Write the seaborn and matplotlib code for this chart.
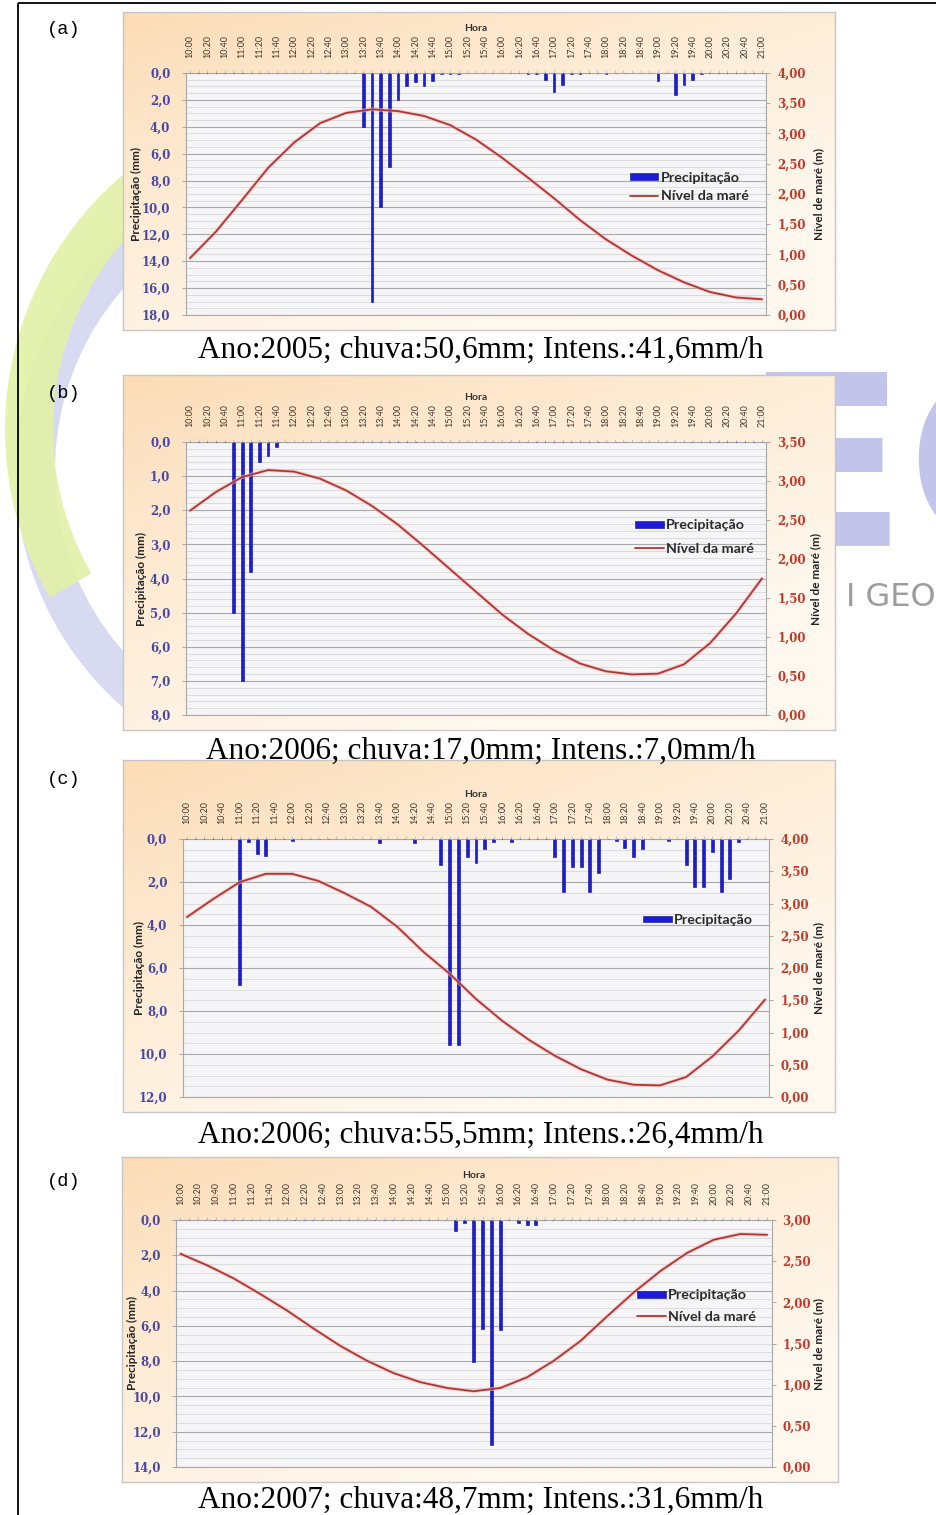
import numpy as np
import pandas as pd
import matplotlib
matplotlib.use("Agg")
import matplotlib.pyplot as plt
import matplotlib.patheffects as pe
import seaborn as sns
from matplotlib.patches import Patch, Wedge
from matplotlib.lines import Line2D
from matplotlib.ticker import MultipleLocator, FixedLocator, FuncFormatter

# ---------------- data ----------------
hora = [f"{h}:{m:02d}" for h in range(10, 21) for m in range(0, 60, 10)] + ["21:00"]
hora_ticks = hora[::2]          # labels every 20 min
tide_hora = hora[::3]           # tide read every 30 min

rain_a_hora = ["13:20", "13:30", "13:40", "13:50", "14:00", "14:10", "14:20", "14:30",
               "14:40", "14:50", "15:00", "15:10", "16:30", "16:40", "16:50", "17:00",
               "17:10", "17:20", "17:30", "18:00", "19:00", "19:20", "19:30", "19:40", "19:50"]
rain_a_mm = [4.0, 17.0, 10.0, 7.0, 2.0, 1.0, 0.7, 1.0,
             0.6, 0.1, 0.1, 0.1, 0.1, 0.1, 0.5, 1.4,
             0.9, 0.1, 0.1, 0.1, 0.6, 1.6, 0.9, 0.5, 0.1]
tide_a_m = [0.94, 1.38, 1.90, 2.43, 2.85, 3.17, 3.34, 3.40, 3.37, 3.29, 3.14, 2.90,
            2.60, 2.27, 1.93, 1.57, 1.25, 0.98, 0.74, 0.54, 0.38, 0.29, 0.26]

rain_b_hora = ["10:50", "11:00", "11:10", "11:20", "11:30", "11:40"]
rain_b_mm = [5.0, 7.0, 3.8, 0.6, 0.4, 0.15]
tide_b_m = [2.62, 2.86, 3.05, 3.14, 3.12, 3.03, 2.88, 2.68, 2.44, 2.16, 1.87, 1.58,
            1.29, 1.04, 0.83, 0.66, 0.56, 0.52, 0.53, 0.65, 0.92, 1.30, 1.75]

rain_c_hora = ["11:00", "11:10", "11:20", "11:30", "12:00", "13:40", "14:20", "14:50",
               "15:00", "15:10", "15:20", "15:30", "15:40", "15:50", "16:10", "17:00",
               "17:10", "17:20", "17:30", "17:40", "17:50", "18:10", "18:20", "18:30",
               "18:40", "19:10", "19:30", "19:40", "19:50", "20:00", "20:10", "20:20", "20:30"]
rain_c_mm = [6.8, 0.15, 0.7, 0.8, 0.1, 0.2, 0.2, 1.2,
             9.6, 9.6, 0.85, 1.1, 0.45, 0.15, 0.15, 0.85,
             2.45, 1.3, 1.3, 2.45, 1.6, 0.1, 0.4, 0.85,
             0.45, 0.1, 1.2, 2.25, 2.25, 0.6, 2.45, 1.85, 0.15]
tide_c_m = [2.79, 3.07, 3.33, 3.46, 3.46, 3.35, 3.16, 2.95, 2.64, 2.25, 1.91, 1.52,
            1.18, 0.89, 0.64, 0.43, 0.27, 0.19, 0.18, 0.31, 0.63, 1.03, 1.51]

rain_d_hora = ["15:10", "15:20", "15:30", "15:40", "15:50", "16:00", "16:20", "16:30", "16:40"]
rain_d_mm = [0.6, 0.15, 8.05, 6.15, 12.75, 6.25, 0.15, 0.3, 0.3]
tide_d_m = [2.59, 2.45, 2.29, 2.10, 1.90, 1.68, 1.47, 1.29, 1.14, 1.03, 0.96, 0.92,
            0.96, 1.09, 1.29, 1.53, 1.83, 2.12, 2.38, 2.60, 2.76, 2.83, 2.82]

captions = ["Ano:2005; chuva:50,6mm; Intens.:41,6mm/h",
            "Ano:2006; chuva:17,0mm; Intens.:7,0mm/h",
            "Ano:2006; chuva:55,5mm; Intens.:26,4mm/h",
            "Ano:2007; chuva:48,7mm; Intens.:31,6mm/h"]
panel_labels = ["(a)", "(b)", "(c)", "(d)"]
legend_labels = ["Precipitação", "Nível da maré"]

# ---------------- style ----------------
sns.set_theme(style="white")
plt.rcParams['font.family'] = ['Lato', 'DejaVu Sans']

W, H = 937, 1515
BAR = "#1c1cd8"
BAR_EDGE = "#0b0b90"
LINE = "#b03636"
LEFT_TXT = "#4848a4"
RIGHT_TXT = "#c4392a"
TIME_TXT = "#3f352b"


def rect(x0, y0, x1, y1):
    return [x0 / W, 1 - y1 / H, (x1 - x0) / W, (y1 - y0) / H]


fig = plt.figure(figsize=(W / 100, H / 100), dpi=100)
fig.patch.set_facecolor("white")

# ---------- background watermark + frame ----------
wm = fig.add_axes([0, 0, 1, 1], zorder=0)
wm.set_xlim(0, W)
wm.set_ylim(H, 0)
wm.axis("off")
wm.add_patch(Wedge((330, 470), 315, 128, 262, width=40, facecolor="#cfd1ef",
                   edgecolor="none", alpha=0.8))
wm.add_patch(Wedge((340, 430), 335, 150, 236, width=48, facecolor="#e3f1a6",
                   edgecolor="none", alpha=0.9))
wm.text(906, 480, "E", fontsize=172, fontweight="bold", color="#c3c4ec", ha="right",
        va="center", family=["DejaVu Sans"], clip_on=True)
wm.text(906, 480, "C", fontsize=172, fontweight="bold", color="#c3c4ec", ha="left",
        va="center", family=["DejaVu Sans"], clip_on=True)
wm.text(846, 598, "I GEO", fontsize=23, color="#9d9d9d", ha="left", va="center",
        family=["DejaVu Sans"], clip_on=True)
wm.plot([18, 18], [3, H], color="black", lw=1.3, solid_capstyle="butt")
wm.plot([18, W], [3, 3], color="black", lw=1.3, solid_capstyle="butt")

panels = [
    dict(rh=rain_a_hora, rv=rain_a_mm, tide=tide_a_m, box=(123, 12, 835, 330),
         plot=(185.7, 73, 766.3, 315), lmax=18, lmaj=2, lmin=0.5, rmax=4.0,
         cap_y=350, lab_y=30, leg=(0.765, 0.529), nleg=2, lsp=0.42, ylx=-0.075, yrx=1.080),
    dict(rh=rain_b_hora, rv=rain_b_mm, tide=tide_b_m, box=(123, 375, 835, 730),
         plot=(185.7, 442, 766.3, 715), lmax=8, lmaj=1, lmin=0.2, rmax=3.5,
         cap_y=751, lab_y=393, leg=(0.774, 0.652), nleg=2, lsp=0.78, ylx=-0.067, yrx=1.075),
    dict(rh=rain_c_hora, rv=rain_c_mm, tide=tide_c_m, box=(123, 760, 835, 1112),
         plot=(182.6, 839, 769.4, 1097), lmax=12, lmaj=2, lmin=0.5, rmax=4.0,
         cap_y=1135, lab_y=780, leg=(0.785, 0.686), nleg=1, lsp=0.6, ylx=-0.064, yrx=1.074),
    dict(rh=rain_d_hora, rv=rain_d_mm, tide=tide_d_m, box=(122, 1157, 838, 1482),
         plot=(176, 1220, 771.5, 1467), lmax=14, lmaj=2, lmin=0.5, rmax=3.0,
         cap_y=1500, lab_y=1182, leg=(0.774, 0.652), nleg=2, lsp=0.65, ylx=-0.064, yrx=1.070),
]

fmt1 = FuncFormatter(lambda v, _: f"{v:.1f}".replace(".", ","))
fmt2 = FuncFormatter(lambda v, _: f"{v:.2f}".replace(".", ","))

grad_c1 = np.array([252, 219, 180]) / 255.0
grad_c2 = np.array([255, 248, 238]) / 255.0
gu, gv = np.meshgrid(np.linspace(0, 1, 200), np.linspace(0, 1, 200))
gt = np.clip(0.55 * gu + 0.75 * gv, 0, 1)[..., None] ** 0.8
grad_img = grad_c1 * (1 - gt) + grad_c2 * gt

tide_pos = [hora.index(h) for h in tide_hora]

for i, p in enumerate(panels):
    # chart area box with gradient
    bg = fig.add_axes(rect(*p["box"]), zorder=1)
    bg.imshow(grad_img, extent=[0, 1, 0, 1], aspect="auto", origin="upper")
    bg.set_xticks([])
    bg.set_yticks([])
    for s in bg.spines.values():
        s.set_color("#c6c6c6")
        s.set_linewidth(1.0)

    # precipitation bars (left axis, reversed)
    ax = fig.add_axes(rect(*p["plot"]), zorder=2)
    ax.set_facecolor("#f5f5f7")
    s = pd.Series(0.0, index=hora)
    s.loc[p["rh"]] = p["rv"]
    df = pd.DataFrame({"Hora": hora, "Precipitação": s.values})
    sns.barplot(data=df, x="Hora", y="Precipitação", order=hora, color=BAR, width=0.34,
                saturation=1, edgecolor=BAR_EDGE, linewidth=0.4, errorbar=None, ax=ax)
    ax.set_xlim(-0.5, len(hora) - 0.5)
    ax.set_ylim(p["lmax"], 0)
    ax.set_axisbelow(True)
    ax.yaxis.set_major_locator(MultipleLocator(p["lmaj"]))
    ax.yaxis.set_minor_locator(MultipleLocator(p["lmin"]))
    ax.yaxis.set_major_formatter(fmt1)
    ax.grid(which="major", axis="y", color="#a9a9a9", lw=0.8)
    ax.grid(which="minor", axis="y", color="#d2d2d2", lw=0.5)
    ax.grid(False, axis="x")

    ax.xaxis.tick_top()
    ax.xaxis.set_label_position("top")
    ax.xaxis.set_major_locator(FixedLocator(list(range(0, len(hora), 2))))
    ax.set_xticklabels(hora_ticks, rotation=90, fontsize=6.4, color=TIME_TXT)
    ax.xaxis.set_minor_locator(FixedLocator(list(range(len(hora)))))
    ax.tick_params(axis="x", which="both", top=True, bottom=False, direction="out",
                   length=2.5, width=0.6, color="#b9b9b9", pad=8)
    ax.set_xlabel("Hora", fontsize=7.5, fontweight="bold", color="#333333", labelpad=3)

    ax.tick_params(axis="y", which="major", left=True, direction="out", length=3,
                   width=0.6, color="#9a9a9a", pad=8, labelsize=8.5, labelcolor=LEFT_TXT)
    ax.tick_params(axis="y", which="minor", left=False)
    for t in ax.get_yticklabels():
        t.set_fontfamily(["DejaVu Serif"])
        t.set_fontweight("bold")
    ax.set_ylabel("Precipitação (mm)", fontsize=8.5, fontweight="bold", color="#222222")
    ax.yaxis.set_label_coords(p["ylx"], 0.5)
    for sp in ["left", "bottom", "top"]:
        ax.spines[sp].set_color("#a8a8a8")
        ax.spines[sp].set_linewidth(0.8)
    ax.spines["top"].set_linestyle((0, (2, 2)))
    ax.spines["right"].set_visible(False)

    # tide level (right axis)
    ax2 = fig.add_axes(rect(*p["plot"]), zorder=3)
    ax2.patch.set_alpha(0)
    sns.lineplot(x=tide_pos, y=p["tide"], ax=ax2, color=LINE, lw=1.3,
                 path_effects=[pe.Stroke(linewidth=2.8, foreground="#f2b8b0", alpha=0.6), pe.Normal()])
    ax2.set_xlim(-0.5, len(hora) - 0.5)
    ax2.set_ylim(0, p["rmax"])
    ax2.xaxis.set_visible(False)
    ax2.yaxis.tick_right()
    ax2.yaxis.set_label_position("right")
    ax2.yaxis.set_major_locator(MultipleLocator(0.5))
    ax2.yaxis.set_major_formatter(fmt2)
    ax2.tick_params(axis="y", right=True, direction="out", length=3, width=0.6,
                    color="#9a9a9a", pad=5, labelsize=8.5, labelcolor=RIGHT_TXT)
    for t in ax2.get_yticklabels():
        t.set_fontfamily(["DejaVu Serif"])
        t.set_fontweight("bold")
    ax2.set_ylabel("Nível de maré (m)", fontsize=8.5, fontweight="bold", color="#222222",
                   rotation=90)
    ax2.yaxis.set_label_coords(p["yrx"], 0.5)
    for sp in ["left", "bottom", "top"]:
        ax2.spines[sp].set_visible(False)
    ax2.spines["right"].set_color("#a8a8a8")
    ax2.spines["right"].set_linewidth(0.8)

    handles = [Patch(facecolor=BAR, edgecolor=BAR_EDGE, linewidth=0.4),
               Line2D([0], [0], color=LINE, lw=1.3)][: p["nleg"]]
    leg = ax2.legend(handles=handles, labels=legend_labels[: p["nleg"]], loc="center left",
                     bbox_to_anchor=p["leg"], frameon=False, fontsize=10.3, handlelength=2.0,
                     handleheight=0.35, handletextpad=0.15, labelspacing=p["lsp"], borderpad=0,
                     borderaxespad=0)
    for t in leg.get_texts():
        t.set_fontweight("bold")
        t.set_color("#2a2a2a")

    # caption and panel label
    fig.text(481 / W, 1 - p["cap_y"] / H, captions[i], ha="center", va="center",
             fontsize=22.5, family=["Liberation Serif"], color="black")
    fig.text(47 / W, 1 - p["lab_y"] / H, panel_labels[i], ha="left", va="center",
             fontsize=13.5, family=["Liberation Mono"], color="black")

fig.savefig("out.png", dpi=100)
